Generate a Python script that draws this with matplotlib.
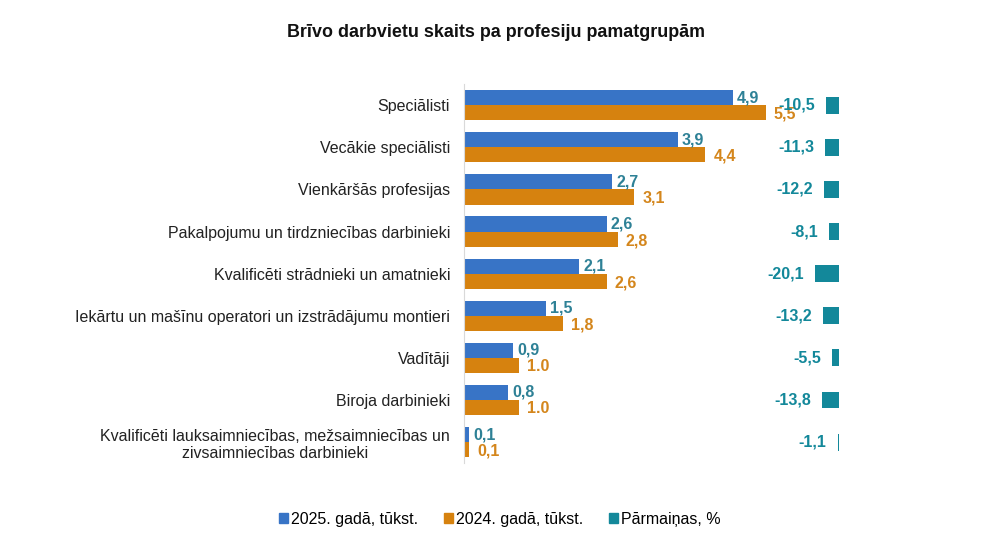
import matplotlib
matplotlib.use("Agg")
import matplotlib.pyplot as plt
import numpy as np
from matplotlib.patches import Patch

plt.rcParams['font.family'] = ['Liberation Sans', 'DejaVu Sans']

categories = [
    "Speciālisti",
    "Vecākie speciālisti",
    "Vienkāršās profesijas",
    "Pakalpojumu un tirdzniecības darbinieki",
    "Kvalificēti strādnieki un amatnieki",
    "Iekārtu un mašīnu operatori un izstrādājumu montieri",
    "Vadītāji",
    "Biroja darbinieki",
    "Kvalificēti lauksaimniecības, mežsaimniecības un\nzivsaimniecības darbinieki",
]
v2025 = [4.9, 3.9, 2.7, 2.6, 2.1, 1.5, 0.9, 0.8, 0.1]
v2024 = [5.5, 4.4, 3.1, 2.8, 2.6, 1.8, 1.0, 1.0, 0.1]
lab2025 = ["4,9", "3,9", "2,7", "2,6", "2,1", "1,5", "0,9", "0,8", "0,1"]
lab2024 = ["5,5", "4,4", "3,1", "2,8", "2,6", "1,8", "1.0", "1.0", "0,1"]
change = [-10.5, -11.3, -12.2, -8.1, -20.1, -13.2, -5.5, -13.8, -1.1]
labchange = ["-10,5", "-11,3", "-12,2", "-8,1", "-20,1", "-13,2", "-5,5", "-13,8", "-1,1"]
series_names = ["2025. gadā, tūkst.", "2024. gadā, tūkst.", "Pārmaiņas, %"]

c_blue = "#3874C6"
c_orange = "#D6820F"
c_teal = "#13889A"
c_bluelab = "#2E8196"
c_orlab = "#D4861C"

fig = plt.figure(figsize=(10, 5.43), dpi=100)
ax = fig.add_axes([0.464, 0.147, 0.375, 0.698])
ax2 = fig.add_axes([0.464, 0.147, 0.375, 0.698], sharey=ax)
ax2.patch.set_alpha(0)

y = np.arange(len(categories))
h = 0.36
ax.barh(y - h / 2, v2025, height=h, color=c_blue)
ax.barh(y + h / 2, v2024, height=h, color=c_orange)
ax.set_xlim(0, 6.84)
ax.set_ylim(8.5, -0.5)

fs = 11.5
for i in range(len(categories)):
    ax.annotate(lab2025[i], (v2025[i], y[i] - h / 2), xytext=(3, 0), textcoords="offset points",
                ha="left", va="center", fontsize=fs, fontweight="bold", color=c_bluelab)
    ax.annotate(lab2024[i], (v2024[i], y[i] + h / 2), xytext=(6, -1), textcoords="offset points",
                ha="left", va="center", fontsize=fs, fontweight="bold", color=c_orlab)

ax2.barh(y, change, height=0.4, color=c_teal)
ax2.set_xlim(-312.5, 0)
for i in range(len(categories)):
    ax2.annotate(labchange[i], (change[i], y[i]), xytext=(-8, 0), textcoords="offset points",
                 ha="right", va="center", fontsize=fs, fontweight="bold", color=c_teal)

ax.set_yticks(y)
ax.set_yticklabels(categories, fontsize=fs, color="#222222", multialignment="center")
ax.tick_params(axis="y", length=0, pad=10)
ax.set_xticks([])
for s in ["top", "right", "bottom"]:
    ax.spines[s].set_visible(False)
ax.spines["left"].set_color("#D9D9D9")
ax2.axis("off")

fig.text(0.496, 0.94, "Brīvo darbvietu skaits pa profesiju pamatgrupām", ha="center", va="center",
         fontsize=12.9, fontweight="bold", color="#111111")

handles = [Patch(color=c_blue), Patch(color=c_orange), Patch(color=c_teal)]
fig.legend(handles, series_names, loc="center", bbox_to_anchor=(0.5, 0.044), ncol=3, frameon=False,
           fontsize=fs, handlelength=0.55, handleheight=0.55, handletextpad=0.2, columnspacing=1.6)

fig.savefig("out.png", dpi=100)
